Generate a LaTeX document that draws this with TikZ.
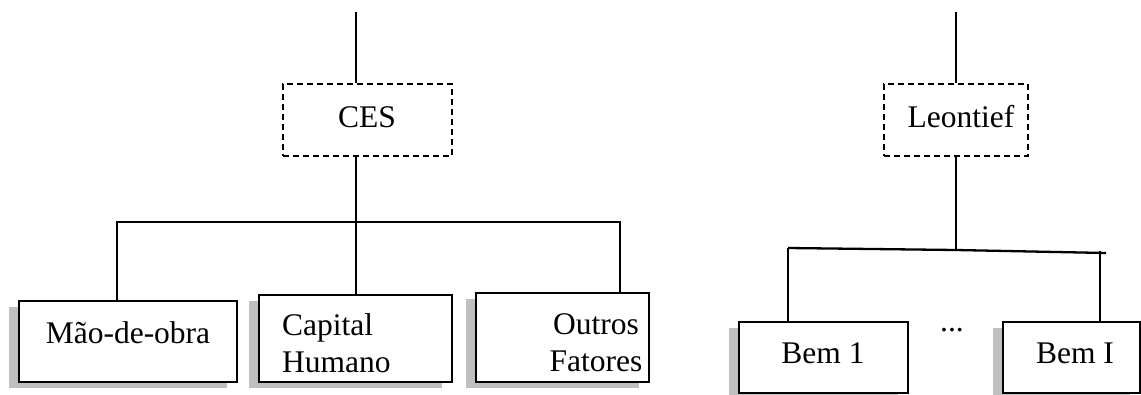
\documentclass[tikz,border=0pt]{standalone}
\usepackage{fontspec}
\setmainfont{Liberation Serif}
\usetikzlibrary{shadows}
\begin{document}
\begin{tikzpicture}[x=1pt,y=-1pt,
  line width=2.3pt,
  conn/.style={draw=black,line width=2.3pt},
  dashbox/.style={draw=black,line width=2.3pt,dash pattern=on 6pt off 4pt,rectangle,inner sep=0pt},
  shadowbox/.style={draw=black,line width=2.5pt,fill=white,rectangle,inner sep=0pt,
    drop shadow={shadow xshift=-10pt,shadow yshift=-6pt,fill=black!25,opacity=1}},
  lbl/.style={font=\fontsize{31.5}{37}\selectfont,inner sep=0pt,anchor=base}]
\useasboundingbox (0,0) rectangle (1141,394);
% dashed function boxes
\node[dashbox,minimum width=169pt,minimum height=72pt] (ces) at (367.5,120) {};
\node[dashbox,minimum width=144pt,minimum height=72pt] (leo) at (956,120) {};
\node[lbl] (cest) at (367,127) {CES};
\node[lbl] (leot) at (961,127) {Leontief};
% input boxes
\node[shadowbox,minimum width=218pt,minimum height=81pt] (mao) at (128,341.5) {};
\node[shadowbox,minimum width=193pt,minimum height=87pt] (cap) at (355.5,338.5) {};
\node[shadowbox,minimum width=173pt,minimum height=89pt] (out) at (562.5,337.5) {};
\node[shadowbox,minimum width=169pt,minimum height=71pt] (bem1) at (823.5,357.5) {};
\node[shadowbox,minimum width=137pt,minimum height=71pt] (bemI) at (1071.5,357.5) {};
\node[lbl] (maot) at (128,343) {Mão-de-obra};
\node[lbl,anchor=base west,align=left] (capt) at (281,372) {Capital\\Humano};
\node[lbl,align=center] (outt) at (596,371) {Outros\\Fatores};
\node[lbl] (bem1t) at (823,363) {Bem 1};
\node[lbl] (bemIt) at (1075,363) {Bem I};
\node[lbl] (dots) at (952,331) {...};
% connector coordinates
\coordinate (cestop) at (356,12);
\coordinate (cesj) at (356,222);
\coordinate (hl) at (117,222);
\coordinate (hr) at (620,222);
\coordinate (leotop) at (956,12);
\coordinate (leoj) at (956,250);
\coordinate (ll) at (788,248);
\coordinate (lr) at (1106,253);
\coordinate (lrv) at (1100,251);
% CES tree
\draw[conn] (cestop) -- (cestop |- ces.north);
\draw[conn] (ces.south -| cestop) -- (cesj) -- (cap.north -| cesj);
\draw[conn] (mao.north -| hl) -- (hl) -- (hr) -- (out.north -| hr);
% Leontief tree
\draw[conn] (leotop) -- (leotop |- leo.north);
\draw[conn] (leo.south -| leotop) -- (leoj);
\draw[conn] (ll) -- (leoj) -- (lr);
\draw[conn] (bem1.north -| ll) -- (ll);
\draw[conn] (bemI.north -| lrv) -- (lrv);
\end{tikzpicture}
\end{document}
